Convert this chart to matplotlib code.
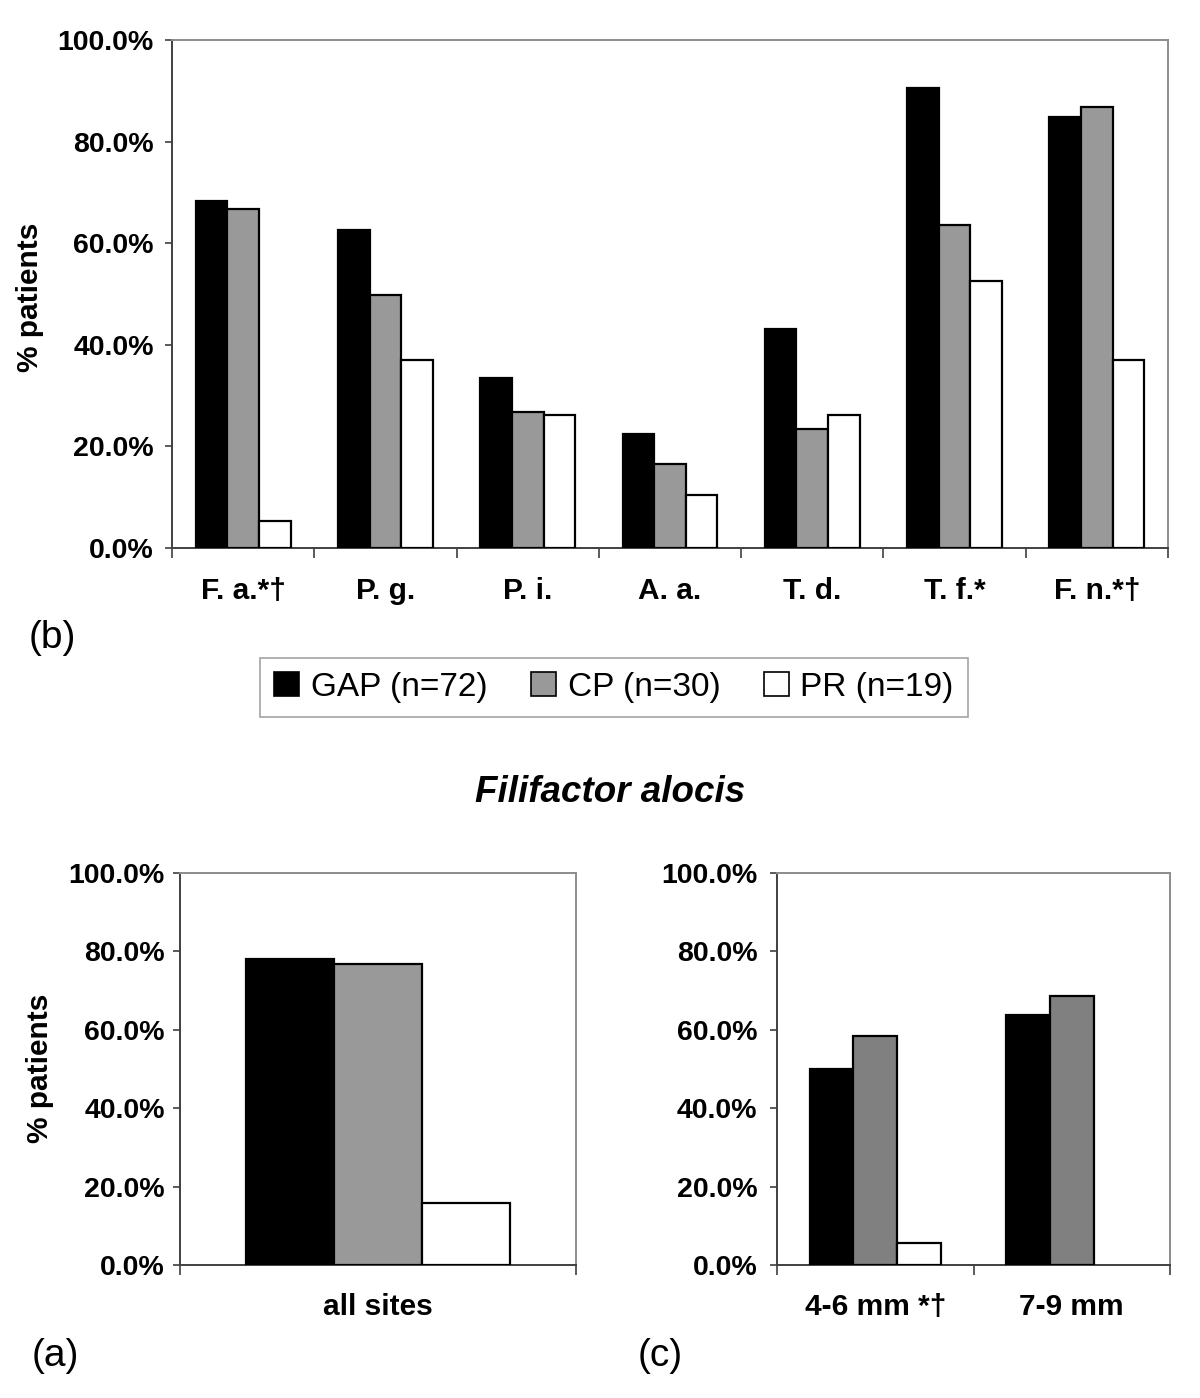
import matplotlib
matplotlib.use("Agg")
import matplotlib.pyplot as plt
from matplotlib.patches import Patch
import matplotlib.transforms as mtransforms
import numpy as np

plt.rcParams['font.family'] = ['Liberation Sans', 'DejaVu Sans']

# ---------------- data ----------------
species = ["F. a.*\u2020", "P. g.", "P. i.", "A. a.", "T. d.", "T. f.*", "F. n.*\u2020"]
gap_b = [68.3, 62.6, 33.4, 22.4, 43.2, 90.6, 84.9]
cp_b = [66.8, 49.9, 26.8, 16.6, 23.4, 63.5, 86.8]
pr_b = [5.4, 37.0, 26.2, 10.4, 26.2, 52.6, 37.0]

cat_a = ["all sites"]
gap_a = [78.0]
cp_a = [76.8]
pr_a = [15.7]

cat_c = ["4-6 mm *\u2020", "7-9 mm"]
gap_c = [49.9, 63.9]
cp_c = [58.4, 68.5]
pr_c = [5.5, 0.0]

groups = ["GAP (n=72)", "CP (n=30)", "PR (n=19)"]
yticks = [0, 20, 40, 60, 80, 100]

W, H = 1200, 1398
fig = plt.figure(figsize=(W / 100, H / 100), dpi=100)

def ax_px(x0, y0, x1, y1):
    return fig.add_axes([x0 / W, 1 - y1 / H, (x1 - x0) / W, (y1 - y0) / H])

def draw(ax, cats, series, colors, tick_pad, ylpad):
    n = len(cats)
    bw = 1 / 4.5
    x = np.arange(n)
    offs = [-bw, 0, bw]
    for vals, off, col in zip(series, offs, colors):
        vals = np.asarray(vals, dtype=float)
        keep = vals > 0
        ax.bar(x[keep] + off, vals[keep], width=bw, color=col, edgecolor='black',
               linewidth=1.6, zorder=3)
    ax.set_xlim(-0.5, n - 0.5)
    ax.set_ylim(0, 100)
    ax.set_yticks(yticks)
    ax.set_yticklabels([f"{v:.1f}%" for v in yticks], fontsize=20.5, fontweight='bold')
    off = mtransforms.ScaledTranslation(0, -4 / 100, fig.dpi_scale_trans)
    for lab in ax.get_yticklabels():
        lab.set_transform(lab.get_transform() + off)
    ax.set_xticks(x)
    ax.set_xticklabels(cats, fontsize=21.5, fontweight='bold')
    ax.set_xticks(np.arange(n + 1) - 0.5, minor=True)
    ax.tick_params(axis='x', which='major', length=0, pad=tick_pad)
    ax.tick_params(axis='x', which='minor', length=7, width=1.2, color='#404040', direction='out')
    ax.tick_params(axis='y', which='major', length=5, width=1.2, color='#404040', direction='out', pad=ylpad)
    for s in ['left', 'bottom']:
        ax.spines[s].set_color('#404040')
        ax.spines[s].set_linewidth(1.4)
    for s in ['top', 'right']:
        ax.spines[s].set_color('#8c8c8c')
        ax.spines[s].set_linewidth(1.4)

axb = ax_px(172, 40, 1168, 548)
draw(axb, species, [gap_b, cp_b, pr_b], ['black', '#999999', 'white'], 21, 8)

axa = ax_px(180, 873, 576, 1265)
draw(axa, cat_a, [gap_a, cp_a, pr_a], ['black', '#999999', 'white'], 20, 6)

axc = ax_px(777, 873, 1170, 1265)
draw(axc, cat_c, [gap_c, cp_c, pr_c], ['black', '#808080', 'white'], 20, 9)

def ftxt(x, y, s, **kw):
    fig.text(x / W, 1 - y / H, s, **kw)

ftxt(30, 297, "% patients", rotation=90, fontsize=21.5, fontweight='bold', ha='center', va='center')
ftxt(40, 1068, "% patients", rotation=90, fontsize=21.5, fontweight='bold', ha='center', va='center')
ftxt(52, 638, "(b)", fontsize=28, ha='center', va='center')
ftxt(55, 1356, "(a)", fontsize=28, ha='center', va='center')
ftxt(660, 1356, "(c)", fontsize=28, ha='center', va='center')
ftxt(610, 792, "Filifactor alocis", fontsize=26.5, fontweight='bold', style='italic', ha='center', va='center')

handles = [Patch(facecolor=c, edgecolor='black', linewidth=1.2) for c in ['black', '#999999', 'white']]
leg = fig.legend(handles, groups, loc='center', bbox_to_anchor=(614 / W, 1 - 687 / H), ncol=3,
                 fontsize=24, frameon=True, fancybox=False, edgecolor='#8c8c8c',
                 handlelength=0.75, handleheight=0.75, handletextpad=0.35, columnspacing=1.3,
                 borderpad=0.42, borderaxespad=0)
leg.get_frame().set_linewidth(1.2)

fig.savefig("out.png", dpi=100, facecolor='white')
